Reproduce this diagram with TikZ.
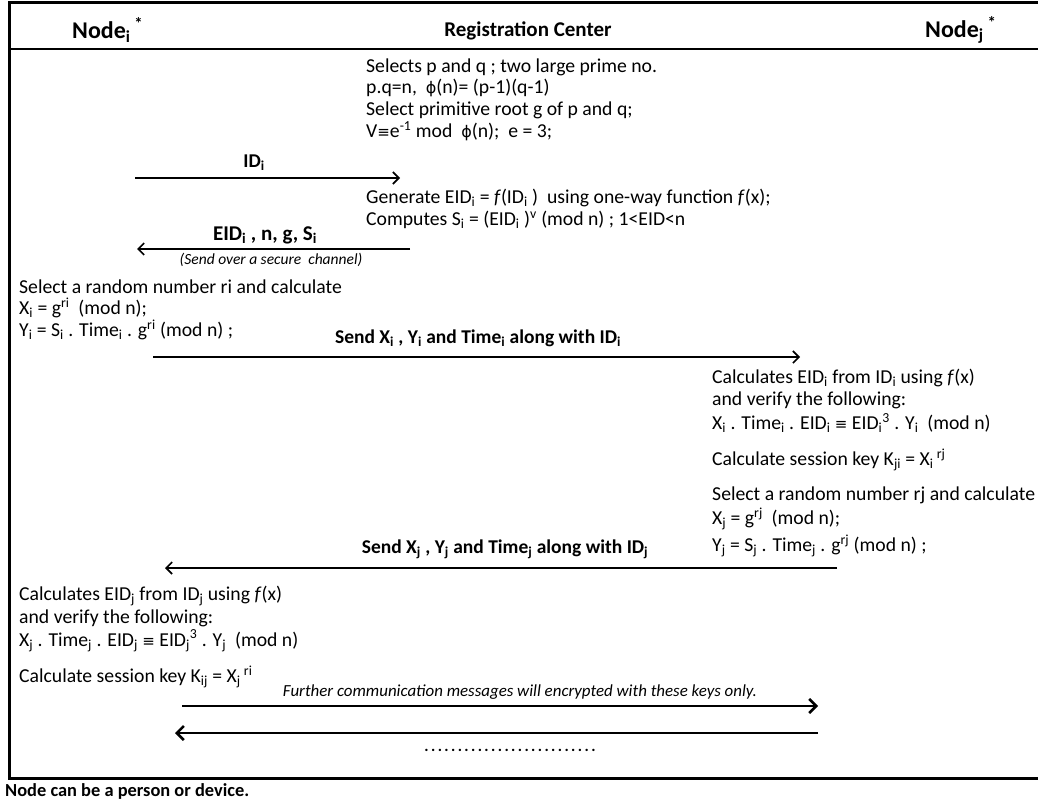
\documentclass[tikz,border=0pt]{standalone}
\usepackage{fontspec}
\setmainfont{Carlito}
\newfontfamily\djv{DejaVu Sans}
\usetikzlibrary{arrows.meta}
\newcommand{\sbi}{\textsubscript{i}}
\newcommand{\sbj}{\textsubscript{j}}
\newcommand{\spr}[1]{\textsuperscript{#1}}
\newcommand{\phisym}{{\djv\fontsize{16}{18}\selectfont ϕ}}
\newcommand{\eqv}{{\djv\fontsize{15}{18}\selectfont ≡}}
\begin{document}
\begin{tikzpicture}[x=1pt,y=-1pt,
  txt/.style={anchor=west,inner sep=0pt,font=\fontsize{19.7}{22}\selectfont},
  lbl/.style={inner sep=0pt,font=\bfseries\fontsize{19.5}{22}\selectfont},
  hdr/.style={inner sep=0pt,font=\bfseries\fontsize{24}{26}\selectfont},
  msg/.style={line width=1.6pt,-{Straight Barb[length=6pt,width=12pt,line width=1.6pt]}},
  bigmsg/.style={line width=2.6pt,-{Straight Barb[length=7pt,width=14pt,line width=2.6pt]}},
  frame/.style={line width=3pt}]
\useasboundingbox (0,0) rectangle (1038,802);
% frame
\draw[frame] (1040,3) -- (9,3) -- (9,778) -- (1040,778);
\draw[line width=1.8pt] (9,49) -- (1040,49);
% header
\node[hdr,anchor=west] (hi) at (72,30) {Node\sbi\,\spr{*}};
\node[inner sep=0pt,font=\bfseries\fontsize{21}{24}\selectfont] (hrc) at (528,31) {Registration Center};
\node[hdr,anchor=west] (hj) at (925,30) {Node\sbj\,\spr{*}};
% RC setup
\node[txt] (r1) at (366,67) {Selects p and q ; two large prime no.};
\node[txt] (r2) at (366,88) {p.q=n,\ \ \phisym(n)= (p-1)(q-1)};
\node[txt] (r3) at (366,110) {Select primitive root g of p and q;};
\node[txt] (r4) at (366,131) {V\eqv e\spr{-1} mod\ \ \phisym(n);\ \ e = 3;};
% ID_i
\coordinate (a1s) at (135,178);
\coordinate (a1e) at (400,178);
\draw[msg] (a1s) -- (a1e);
\node[lbl] (l1) at (254,163) {ID\sbi};
\node[txt] (r5) at (366,198) {Generate EID\sbi{} = \textit{f}(ID\sbi{} )\ \ using one-way function \textit{f}(x);};
\node[txt] (r6) at (366,220) {Computes S\sbi{} = (EID\sbi{} )\spr{v} (mod n) ; 1<EID<n};
% EID back
\coordinate (a2s) at (410,249);
\coordinate (a2e) at (137,249);
\draw[msg] (a2s) -- (a2e);
\node[lbl,font=\bfseries\fontsize{21}{24}\selectfont] (l2) at (265,235) {EID\sbi{} , n, g, S\sbi};
\node[inner sep=0pt,font=\itshape\fontsize{15.5}{17}\selectfont] (l2b) at (271,260) {(Send over a secure\ \ channel)};
% node i
\node[txt] (i1) at (19,287) {Select a random number ri and calculate};
\node[txt] (i2) at (19,308) {X\sbi{} = g\spr{ri}\ \ (mod n);};
\node[txt] (i3) at (19,330) {Y\sbi{} = S\sbi{} . Time\sbi{} . g\spr{ri} (mod n) ;};
% send i
\coordinate (a3s) at (153,357);
\coordinate (a3e) at (800,357);
\draw[msg] (a3s) -- (a3e);
\node[lbl] (l3) at (478,338) {Send X\sbi{} , Y\sbi{} and Time\sbi{} along with ID\sbi};
% node j
\node[txt] (j1) at (712,378) {Calculates EID\sbi{} from ID\sbi{} using \textit{f}(x)};
\node[txt] (j2) at (712,400) {and verify the following:};
\node[txt] (j3) at (712,423) {X\sbi{} . Time\sbi{} . EID\sbi{} \eqv{} EID\sbi\spr{3} . Y\sbi{}\ \ (mod n)};
\node[txt] (j4) at (712,460) {Calculate session key K\textsubscript{ji} = X\sbi\,\spr{rj}};
\node[txt] (j5) at (712,495) {Select a random number rj and calculate};
\node[txt] (j6) at (712,519) {X\sbj{} = g\spr{rj}\ \ (mod n);};
\node[txt] (j7) at (712,546) {Y\sbj{} = S\sbj{} . Time\sbj{} . g\spr{rj} (mod n) ;};
% send j
\coordinate (a4s) at (837,568);
\coordinate (a4e) at (165,568);
\draw[msg] (a4s) -- (a4e);
\node[lbl] (l4) at (505,549) {Send X\sbj{} , Y\sbj{} and Time\sbj{} along with ID\sbj};
% node i verify
\node[txt] (k1) at (19,596) {Calculates EID\sbj{} from ID\sbj{} using \textit{f}(x)};
\node[txt] (k2) at (19,618) {and verify the following:};
\node[txt] (k3) at (19,641) {X\sbj{} . Time\sbj{} . EID\sbj{} \eqv{} EID\sbj\spr{3} . Y\sbj{}\ \ (mod n)};
\node[txt] (k4) at (19,677) {Calculate session key K\textsubscript{ij} = X\sbj\,\spr{ri}};
% further communication
\node[inner sep=0pt,font=\itshape\fontsize{16.9}{18}\selectfont] (l5) at (520,692) {Further communication messages will encrypted with these keys only.};
\coordinate (a5s) at (182,706);
\coordinate (a5e) at (818,706);
\draw[bigmsg] (a5s) -- (a5e);
\coordinate (a6s) at (818,733);
\coordinate (a6e) at (175,733);
\draw[bigmsg] (a6s) -- (a6e);
\node[inner sep=0pt,font=\bfseries\fontsize{16}{18}\selectfont] (dots) at (510,750) {.\hspace{2.4pt}.\hspace{2.4pt}.\hspace{2.4pt}.\hspace{2.4pt}.\hspace{2.4pt}.\hspace{2.4pt}.\hspace{2.4pt}.\hspace{2.4pt}.\hspace{2.4pt}.\hspace{2.4pt}.\hspace{2.4pt}.\hspace{2.4pt}.\hspace{2.4pt}.\hspace{2.4pt}.\hspace{2.4pt}.\hspace{2.4pt}.\hspace{2.4pt}.\hspace{2.4pt}.\hspace{2.4pt}.\hspace{2.4pt}.\hspace{2.4pt}.\hspace{2.4pt}.\hspace{2.4pt}.\hspace{2.4pt}.\hspace{2.4pt}.};
% footnote
\node[inner sep=0pt,anchor=west,font=\bfseries\fontsize{18.4}{20}\selectfont] (foot) at (5,791) {Node can be a person or device.};
\end{tikzpicture}
\end{document}
